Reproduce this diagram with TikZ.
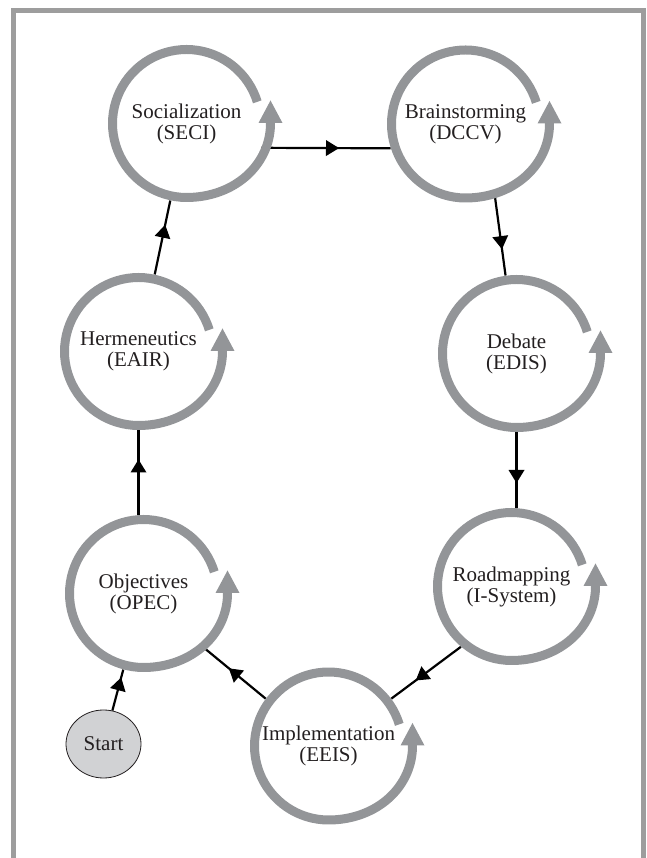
\documentclass[tikz,border=0pt]{standalone}
\usepackage{fontspec}
\setmainfont{Liberation Serif}
\usetikzlibrary{shapes.geometric,decorations.markings,calc}

\definecolor{ringgray}{HTML}{939598}
\definecolor{framegray}{HTML}{9D9D9D}
\definecolor{ink}{HTML}{231F20}
\definecolor{startfill}{HTML}{D1D2D4}

% circular arrow around a stage: a ring that opens at the upper right
% and swings slightly outward before its upward-pointing head
\newcommand\cyclering[1]{%
  \begin{scope}[shift={(#1)}]
    \draw[ring] plot[domain=17:270,samples=60] (\x:74)
      -- plot[domain=270:361,samples=40] (\x:{74+10*pow(cos(\x),2)});
    \fill[ringgray] (72,0.5) -- (84,23) -- (96,0.5) -- cycle;
  \end{scope}}

\begin{document}
\begin{tikzpicture}[x=1pt,y=1pt,
  txt/.style={text=ink,font=\fontsize{21}{21}\selectfont},
  stage/.style={txt,circle,minimum size=157pt,inner sep=0pt,align=center},
  startnode/.style={txt,ellipse,draw=ink,line width=0.8pt,fill=startfill,
    minimum width=75pt,minimum height=68pt,inner sep=0pt},
  ring/.style={draw=ringgray,line width=9pt,line cap=butt,line join=round},
  flow/.style={draw=black,line width=2.2pt,postaction={decorate},
    decoration={markings,mark=at position #1 with
      {\fill[black] (0,-8pt) -- (13pt,0) -- (0,8pt) -- cycle;}}},
  flow/.default=0.5]

\useasboundingbox (0,0) rectangle (646,858);

% outer frame (open at the bottom)
\draw[framegray,line width=5pt,line cap=butt,line join=miter]
  (13.5,-5) -- (13.5,847.5) -- (643.5,847.5) -- (643.5,-5);

% stages
\node[stage] (soc)   at (186.5,734.5) {Socialization\\(SECI)};
\node[stage] (brain) at (465.5,734)   {Brainstorming\\(DCCV)};
\node[stage] (herm)  at (138.5,506.5) {Hermeneutics\\(EAIR)};
\node[stage] (deb)   at (516.5,504.5) {Debate\\(EDIS)};
\node[stage] (obj)   at (143.5,264.5) {Objectives\\(OPEC)};
\node[stage] (road)  at (511.5,271.5) {Roadmapping\\(I-System)};
\node[stage] (impl)  at (328.5,112)   {Implementation\\(EEIS)};
\node[startnode] (start) at (103.5,114) {Start};

% process flow
\draw[flow] (start) -- (obj);
\draw[flow] (obj.north -| herm.south) -- (herm.south);
\draw[flow] (herm) -- (soc);
\draw[flow] (soc.-18) -- (brain.198);
\draw[flow] (brain.-68) -- (deb.98);
\draw[flow] (deb.south) -- (deb.south |- road.north);
\draw[flow] (road.230) -- (impl.37);
\draw[flow=0.42] (impl.143) -- (obj.-42);

% iteration rings
\cyclering{soc}
\cyclering{brain}
\cyclering{herm}
\cyclering{deb}
\cyclering{obj}
\cyclering{road}
\cyclering{impl}
\end{tikzpicture}
\end{document}
